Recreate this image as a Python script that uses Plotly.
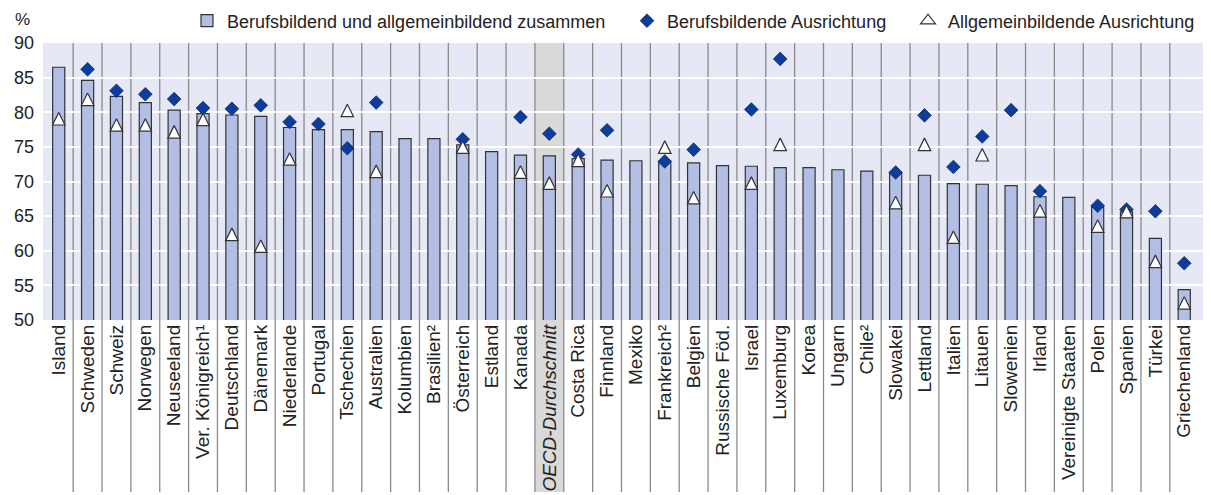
import plotly.graph_objects as go

categories = ["Island", "Schweden", "Schweiz", "Norwegen", "Neuseeland", "Ver. Königreich¹",
              "Deutschland", "Dänemark", "Niederlande", "Portugal", "Tschechien", "Australien",
              "Kolumbien", "Brasilien²", "Österreich", "Estland", "Kanada", "<i>OECD-Durchschnitt</i>",
              "Costa Rica", "Finnland", "Mexiko", "Frankreich²", "Belgien", "Russische Föd.",
              "Israel", "Luxemburg", "Korea", "Ungarn", "Chile²", "Slowakei", "Lettland",
              "Italien", "Litauen", "Slowenien", "Irland", "Vereinigte Staaten", "Polen",
              "Spanien", "Türkei", "Griechenland"]

total = [86.5, 84.6, 82.3, 81.4, 80.3, 79.8, 79.6, 79.4, 77.8, 77.5, 77.5, 77.2, 76.2, 76.2,
         75.3, 74.3, 73.8, 73.7, 73.3, 73.1, 73.0, 72.9, 72.7, 72.3, 72.2, 72.0, 72.0, 71.7,
         71.5, 71.3, 70.9, 69.7, 69.6, 69.4, 67.8, 67.7, 66.3, 65.6, 61.8, 54.4]

vocational = [None, 86.2, 83.1, 82.6, 81.9, 80.6, 80.5, 81.0, 78.6, 78.3, 74.8, 81.4, None, None,
              76.1, None, 79.3, 76.9, 73.9, 77.4, None, 72.9, 74.6, None, 80.4, 87.7, None, None,
              None, 71.3, 79.55, 72.1, 76.5, 80.3, 68.6, None, 66.5, 65.95, 65.7, 58.2]

general = [79.1, 81.9, 78.2, 78.2, 77.2, 79.0, 62.4, 60.7, 73.3, None, 80.3, 71.5, None, None,
           75.0, None, 71.4, 69.8, 73.1, 68.7, None, 75.0, 67.7, None, 69.8, 75.4, None, None,
           None, 67.0, 75.4, 62.0, 73.9, None, 65.8, None, 63.6, 65.7, 58.5, 52.5]

y_ticks = [50, 55, 60, 65, 70, 75, 80, 85, 90]
oecd_index = 17

xs = list(range(len(categories)))
FONT = "Liberation Sans, Arial"
W, H = 1211, 495
GEN_NAME = "Allgemeinbildende Ausrichtung"

fig = go.Figure()
fig.add_trace(go.Bar(
    x=xs, y=total, width=0.42,
    marker=dict(color="#b3bee4", line=dict(color="#333333", width=1.2)),
    name="Berufsbildend und allgemeinbildend zusammen", legend="legend",
))
fig.add_trace(go.Scatter(
    x=xs, y=vocational, mode="markers",
    marker=dict(symbol="diamond", size=10.5, color="#0a3d9e", line=dict(color="#1a2a5a", width=0.8)),
    name="Berufsbildende Ausrichtung", legend="legend2",
))
# data markers: equilateral-looking triangle centred on the value
fig.add_trace(go.Scatter(
    x=xs, y=general, mode="markers",
    marker=dict(symbol="arrow-down", angle=180, standoff=6, size=12.5, color="#ffffff",
                line=dict(color="#333333", width=1.2)),
    name=GEN_NAME, legend="legend3", showlegend=False, legendgroup="gen",
))
# legend entry for the triangles (no data)
fig.add_trace(go.Scatter(
    x=[None], y=[None], mode="markers",
    marker=dict(symbol="triangle-up", size=13, color="#ffffff",
                line=dict(color="#333333", width=1.2)),
    name=GEN_NAME, legend="legend3", legendgroup="gen",
))

bottom = -172 / 277
shapes = [dict(type="rect", xref="x", yref="paper", x0=oecd_index - 0.5, x1=oecd_index + 0.5,
               y0=bottom, y1=1, fillcolor="#d9d9d9", line=dict(width=0), layer="below")]
for i in range(len(categories) - 1):
    shapes.append(dict(type="line", xref="x", yref="paper", x0=i + 0.5, x1=i + 0.5,
                       y0=bottom, y1=1, line=dict(color="#8a8a8a", width=1.3), layer="below"))


def leg(left_px):
    return dict(orientation="h", x=left_px / W, xanchor="left", xref="container",
                y=0.995, yanchor="top", yref="container",
                font=dict(family=FONT, size=18, color="#222222"),
                itemwidth=30, bgcolor="rgba(0,0,0,0)")


fig.update_layout(
    width=W, height=H,
    margin=dict(l=43, r=8, t=43, b=175, autoexpand=False),
    paper_bgcolor="#ffffff",
    plot_bgcolor="#e6e8f5",
    shapes=shapes,
    showlegend=True,
    legend=leg(187), legend2=leg(627), legend3=leg(908),
    xaxis=dict(
        tickmode="array", tickvals=xs, ticktext=categories, tickangle=-90,
        range=[-0.545, 39.65], showgrid=False, zeroline=False, ticks="",
        tickfont=dict(family=FONT, size=19, color="#222222"),
        automargin=False,
    ),
    yaxis=dict(
        range=[50, 90], tickvals=y_ticks, showgrid=True, gridcolor="#ffffff", gridwidth=2,
        zeroline=False, ticks="", showline=False, automargin=False, ticklabelstandoff=8,
        tickfont=dict(family=FONT, size=18, color="#222222"),
    ),
    annotations=[dict(text="%", xref="paper", yref="paper", x=-0.018, y=1.085, xanchor="center",
                      yanchor="middle", showarrow=False,
                      font=dict(family=FONT, size=17, color="#222222"))],
)

fig.write_html("out.html", config={"displayModeBar": False},
               post_script="document.body.style.margin='0';document.body.style.overflow='hidden';")
